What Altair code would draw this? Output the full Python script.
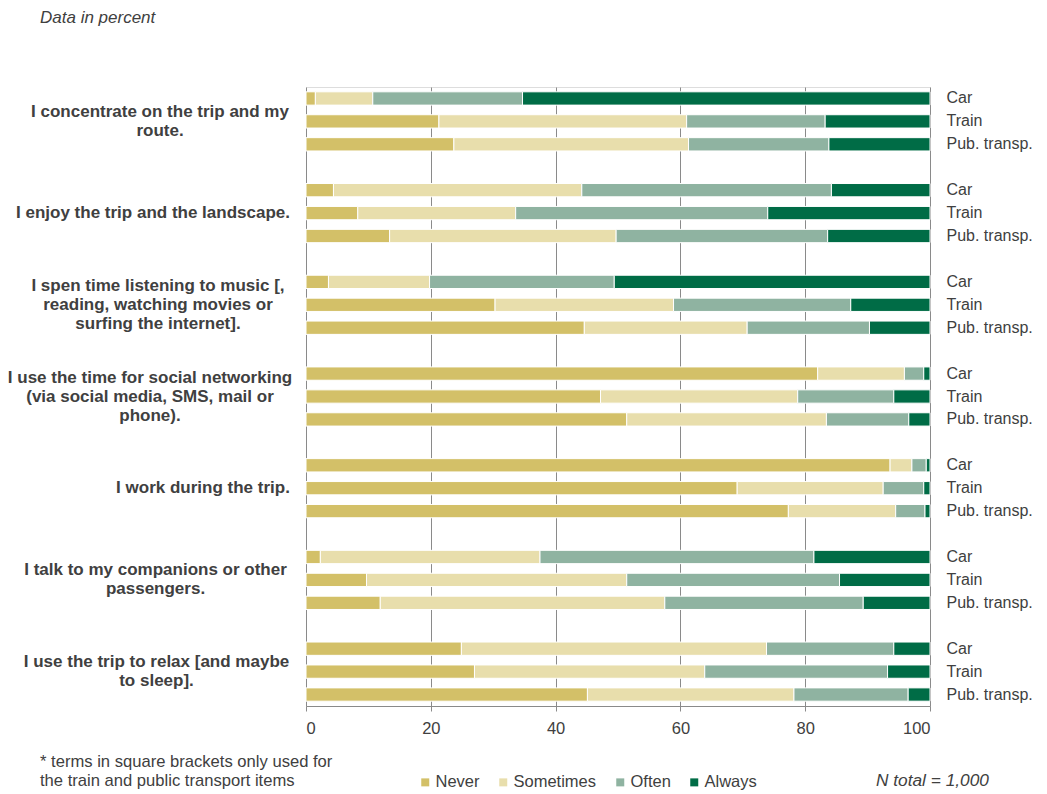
import altair as alt
import pandas as pd

# ---------------- data ----------------
questions = [
    ["I concentrate on the trip and my", "route."],
    ["I enjoy the trip and the landscape."],
    ["I spen time listening to music [,", "reading, watching movies or", "surfing the internet]."],
    ["I use the time for social networking", "(via social media, SMS, mail or", "phone)."],
    ["I work during the trip."],
    ["I talk to my companions  or other", "passengers."],
    ["I use the trip to relax [and maybe", "to sleep]."],
]
modes = ["Car", "Train", "Pub. transp."]
frequencies = ["Never", "Sometimes", "Often", "Always"]

# per question: [Car, Train, Pub. transp.]
never = [[1.5, 21.3, 23.7], [4.4, 8.3, 13.4], [3.6, 30.3, 44.6], [82.0, 47.2, 51.4],
         [93.6, 69.1, 77.3], [2.3, 9.7, 11.9], [24.9, 27.0, 45.1]]
sometimes = [[9.2, 39.7, 37.6], [39.8, 25.3, 36.3], [16.2, 28.6, 26.1], [13.9, 31.6, 32.0],
             [3.5, 23.4, 17.2], [35.2, 41.7, 45.6], [48.9, 36.9, 33.1]]
often = [[24.0, 22.2, 22.5], [40.0, 40.4, 33.9], [29.6, 28.4, 19.6], [3.1, 15.4, 13.2],
         [2.3, 6.5, 4.7], [43.9, 34.1, 31.8], [20.4, 29.3, 18.3]]
always = [[65.3, 16.8, 16.2], [15.8, 26.0, 16.4], [50.6, 12.7, 9.7], [1.0, 5.8, 3.4],
          [0.6, 1.0, 0.8], [18.6, 14.5, 10.7], [5.8, 6.8, 3.5]]

colors = ["#D3C068", "#E8DEAC", "#8FB3A1", "#006C46"]

# ---------------- layout constants ----------------
label_centers = [160, 153, 158, 150, 203, 155.5, 156.5]  # absolute px centre of left labels
PLOT_LEFT = 306
PLOT_TOP = 87
FONT = "Liberation Sans"
TXT = "#404040"
LH = 19

# ---------------- build tables ----------------
slot_keys = []
for g in range(len(questions)):
    for m in modes:
        slot_keys.append(f"{g}|{m}")
    if g < len(questions) - 1:
        slot_keys.append(f"{g}|")

series = [never, sometimes, often, always]
rows = []
for g in range(len(questions)):
    for mi, m in enumerate(modes):
        for fi, f in enumerate(frequencies):
            rows.append({"slot": f"{g}|{m}", "freq": f, "order": fi,
                         "value": series[fi][g][mi]})
df = pd.DataFrame(rows)

lab = pd.DataFrame({
    "slot": [f"{g}|Train" for g in range(len(questions))],
    "text": ["\n".join(q) for q in questions],
    "n": [len(q) for q in questions],
    "cx": [c - PLOT_LEFT for c in label_centers],
})

yscale = alt.Scale(domain=slot_keys, paddingInner=0.42, paddingOuter=0.21)

bars = alt.Chart(df).mark_bar(stroke="white", strokeWidth=1).encode(
    x=alt.X("value:Q", stack="zero",
            scale=alt.Scale(domain=[0, 100], nice=False),
            axis=alt.Axis(values=[0, 20, 40, 60, 80, 100], title=None, grid=True,
                          gridColor="#8a8a8a", gridWidth=1, domainColor="#8a8a8a",
                          tickColor="#8a8a8a", tickSize=5, labelFontSize=16.5,
                          labelFont=FONT, labelColor=TXT, labelPadding=9)),
    y=alt.Y("slot:N", scale=yscale, sort=slot_keys,
            axis=alt.Axis(orient="right", title=None, ticks=False, domain=False,
                          labelExpr="split(datum.value, '|')[1]", labelPadding=16,
                          labelFontSize=16, labelFont=FONT, labelColor=TXT, grid=False)),
    color=alt.Color("freq:N", scale=alt.Scale(domain=frequencies, range=colors),
                    legend=alt.Legend(title=None, orient="none", direction="horizontal",
                                      legendX=111, legendY=687, symbolType="square",
                                      symbolSize=64, symbolStrokeWidth=0,
                                      labelFontSize=16.5, labelFont=FONT, labelColor=TXT,
                                      labelOffset=2, columnPadding=15, padding=0)),
    order=alt.Order("order:Q"),
)

label_layers = []
for n in sorted(set(lab["n"])):
    sub = lab[lab["n"] == n]
    label_layers.append(
        alt.Chart(sub).mark_text(
            align="center", baseline="middle", fontWeight="bold", fontSize=17,
            font=FONT, color=TXT, lineBreak="\n", lineHeight=LH, dy=-(n - 1) * LH / 2,
        ).encode(
            x=alt.X("cx:Q", scale=None),
            y=alt.Y("slot:N", scale=yscale, sort=slot_keys),
            text="text:N",
        )
    )

note_top = alt.Chart(alt.Data(values=[{"t": "Data in percent"}])).mark_text(
    align="left", baseline="middle", fontStyle="italic", fontSize=17, font=FONT, color=TXT
).encode(x=alt.value(40 - PLOT_LEFT), y=alt.value(18 - PLOT_TOP), text="t:N")

foot = alt.Chart(alt.Data(values=[{"t": "* terms in square brackets only used for\nthe train and public transport items"}])).mark_text(
    align="left", baseline="middle", fontSize=16.6, font=FONT, color=TXT,
    lineBreak="\n", lineHeight=LH
).encode(x=alt.value(40 - PLOT_LEFT), y=alt.value(762 - PLOT_TOP), text="t:N")

ntot = alt.Chart(alt.Data(values=[{"t": "N total = 1,000"}])).mark_text(
    align="left", baseline="middle", fontStyle="italic", fontSize=17.3, font=FONT, color=TXT
).encode(x=alt.value(876 - PLOT_LEFT), y=alt.value(781 - PLOT_TOP), text="t:N")

chart = alt.layer(bars, *label_layers, note_top, foot, ntot).properties(
    width=624, height=619,
    autosize=alt.AutoSizeParams(type="none"),
    padding={"left": 298, "top": 79, "right": 108, "bottom": 84},
).configure_view(stroke=None).configure(font=FONT)

chart.save("out.html", embed_options={"renderer": "svg", "actions": False})
